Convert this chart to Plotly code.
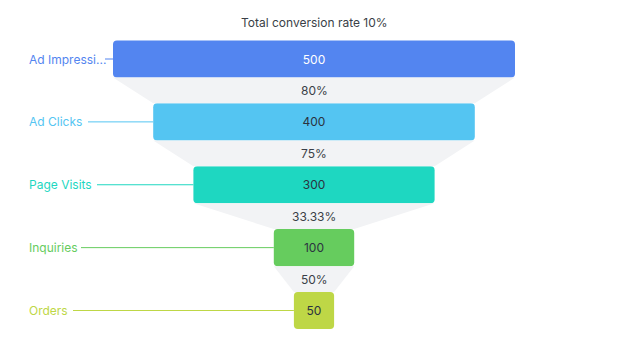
import plotly.graph_objects as go

stages = ["Ad Impressi...", "Ad Clicks", "Page Visits", "Inquiries", "Orders"]
values = [500, 400, 300, 100, 50]
rates = ["80%", "75%", "33.33%", "50%"]
title_text = "Total conversion rate 10%"

colors = ["#5385F0", "#54C5F2", "#1ED7C1", "#66CC5E", "#BED746"]
text_colors = ["#FFFFFF", "#2B3340", "#2B3340", "#2B3340", "#2B3340"]

W, H = 629, 347
PX_PER_UNIT = 0.804
CENTER_PX = 314
ROW_PX = 62.875
FIRST_ROW_PX = 59
BAR_HALF = 0.295
LABEL_X_PX = 27
line_start_px = [105, 88, 97, 81, 73]

xr = [-CENTER_PX / PX_PER_UNIT, (W - CENTER_PX) / PX_PER_UNIT]
yr = [len(values) - 1 + (H - (FIRST_ROW_PX + (len(values) - 1) * ROW_PX)) / ROW_PX,
      -FIRST_ROW_PX / ROW_PX]

fig = go.Figure()
ys = list(range(len(values)))

# connectors
for i in range(len(values) - 1):
    a, b = values[i] / 2, values[i + 1] / 2
    y0, y1 = i + BAR_HALF, i + 1 - BAR_HALF
    fig.add_trace(go.Scatter(
        x=[-a, a, b, -b, -a], y=[y0, y0, y1, y1, y0],
        fill="toself", fillcolor="#F2F3F5", mode="lines",
        line=dict(width=0), hoverinfo="skip", showlegend=False))

# leader lines
for i, v in enumerate(values):
    x0 = (line_start_px[i] - CENTER_PX) / PX_PER_UNIT
    fig.add_trace(go.Scatter(
        x=[x0, -v / 2], y=[i, i], mode="lines",
        line=dict(color=colors[i], width=1), hoverinfo="skip", showlegend=False))

fig.add_trace(go.Bar(
    y=ys, x=values, base=[-v / 2 for v in values], orientation="h",
    width=2 * BAR_HALF, marker=dict(color=colors, cornerradius=4, line=dict(width=0)),
    text=[str(v) for v in values], textposition="inside", insidetextanchor="middle",
    textangle=0, textfont=dict(color=text_colors, size=12, family="Inter"),
    showlegend=False, hoverinfo="skip"))

annotations = []
for i, r in enumerate(rates):
    annotations.append(dict(x=0, y=i + 0.5, xref="x", yref="y", text=r, showarrow=False,
                            yanchor="middle",
                            font=dict(size=12, color="#3A3F47", family="Inter")))
for i, s in enumerate(stages):
    annotations.append(dict(x=LABEL_X_PX / W, xref="paper", y=i, yref="y", text=s,
                            xanchor="left", yanchor="middle", showarrow=False,
                            font=dict(size=12, color=colors[i], family="Inter")))
annotations.append(dict(x=CENTER_PX / W, xref="paper", y=1 - 22 / H, yref="paper",
                        text=title_text, showarrow=False, yanchor="middle",
                        font=dict(size=12, color="#3A3F47", family="Inter")))

fig.update_layout(
    width=W, height=H, margin=dict(l=0, r=0, t=0, b=0),
    paper_bgcolor="white", plot_bgcolor="white",
    xaxis=dict(range=xr, visible=False, fixedrange=True),
    yaxis=dict(range=yr, visible=False, fixedrange=True),
    annotations=annotations, showlegend=False,
)
fig.write_html("out.html")
